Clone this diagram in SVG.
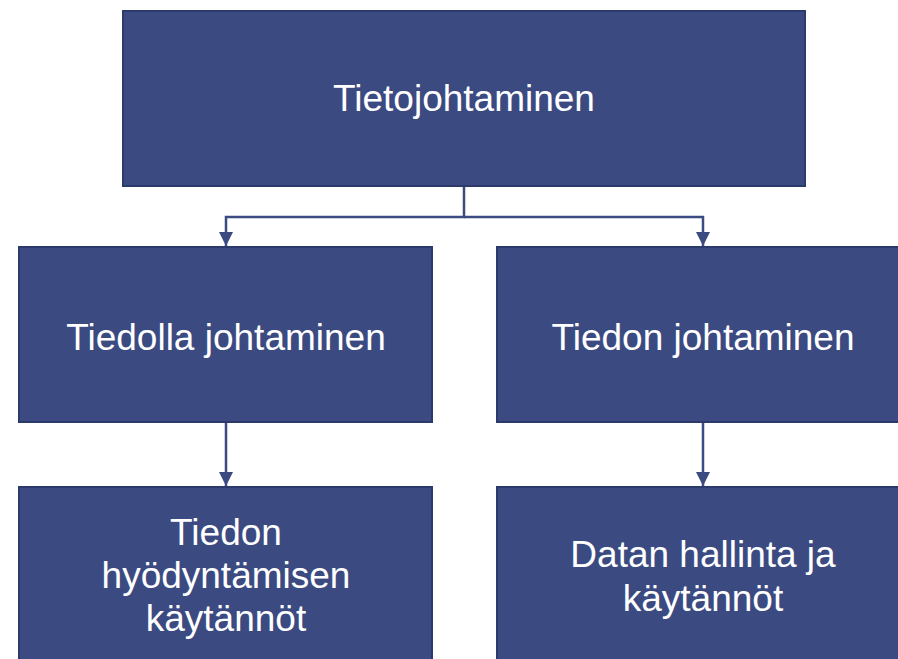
<svg xmlns="http://www.w3.org/2000/svg" width="898" height="659" viewBox="0 0 898 659">
<defs>
<style>
.box{fill:#3b4b82;stroke:#2b3a6b;stroke-width:2}
.lbl{fill:#ffffff;font-family:"Liberation Sans",Arial,sans-serif;font-size:37px;text-anchor:middle}
.con{fill:none;stroke:#3b4b82;stroke-width:2.5}
</style>
<marker id="arr" markerWidth="16" markerHeight="16" refX="14" refY="7" orient="auto" markerUnits="userSpaceOnUse">
<path d="M0,0 L14,7 L0,14 Z" fill="#3b4b82"/>
</marker>
</defs>
<rect width="898" height="659" fill="#ffffff"/>
<g id="connectors">
<path class="con" d="M464,186 V217 H226 V246" marker-end="url(#arr)"/>
<path class="con" d="M464,217 H703 V246" marker-end="url(#arr)"/>
<path class="con" d="M226,422 V486" marker-end="url(#arr)"/>
<path class="con" d="M703,422 V486" marker-end="url(#arr)"/>
</g>
<g id="n1">
<rect class="box" x="123" y="11" width="682" height="175"/>
<text class="lbl" x="464" y="111">Tietojohtaminen</text>
</g>
<g id="n2">
<rect class="box" x="19" y="247" width="413" height="175"/>
<text class="lbl" x="226" y="350">Tiedolla johtaminen</text>
</g>
<g id="n3">
<rect class="box" x="497" y="247" width="420" height="175"/>
<text class="lbl" x="703" y="350">Tiedon johtaminen</text>
</g>
<g id="n4">
<rect class="box" x="19" y="487" width="413" height="190"/>
<text class="lbl" x="226" y="545">Tiedon</text>
<text class="lbl" x="226" y="588">hyödyntämisen</text>
<text class="lbl" x="226" y="631">käytännöt</text>
</g>
<g id="n5">
<rect class="box" x="497" y="487" width="420" height="190"/>
<text class="lbl" x="703" y="567">Datan hallinta ja</text>
<text class="lbl" x="703" y="611">käytännöt</text>
</g>
</svg>
